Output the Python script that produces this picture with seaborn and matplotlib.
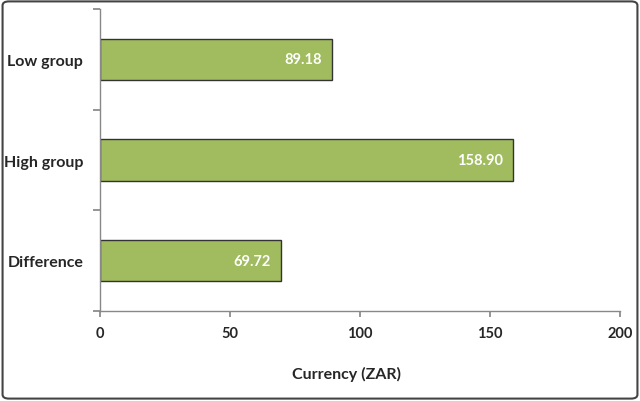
import matplotlib
matplotlib.use("Agg")
import matplotlib.pyplot as plt
from matplotlib.patches import FancyBboxPatch
import pandas as pd
import seaborn as sns

groups = ["Low group", "High group", "Difference"]
values = [89.18, 158.90, 69.72]
x_ticks = [0, 50, 100, 150, 200]

sns.set_theme(style="white")
plt.rcParams["font.family"] = ["Lato", "DejaVu Sans"]

df = pd.DataFrame({"group": groups, "value": values})

fig = plt.figure(figsize=(6.4, 4.02), dpi=100)
ax = fig.add_axes([100 / 640, 1 - 312 / 402, 520 / 640, 302 / 402])

sns.barplot(data=df, x="value", y="group", orient="h", color="#A0BC5E",
            saturation=1, width=0.41, edgecolor="#333333", linewidth=1.0, ax=ax)

for i, v in enumerate(values):
    ax.text(v - 4, i, f"{v:.2f}", ha="right", va="center", color="white",
            fontsize=10.5, fontweight="bold")

ax.set_xlim(0, 200)
ax.set_ylim(2.5, -0.5)
ax.set_xticks(x_ticks)
ax.set_xticklabels([str(t) for t in x_ticks], fontsize=10.5, fontweight="bold")
ax.set_yticks([-0.5, 0.5, 1.5, 2.5], minor=False)
ax.set_yticklabels([])
ax.set_yticks([0, 1, 2], minor=True)
ax.set_yticklabels(groups, minor=True, fontsize=11.5, fontweight="bold")
ax.tick_params(axis="y", which="major", length=5, color="#888888", left=True, direction="out")
ax.tick_params(axis="y", which="minor", length=0, pad=12)
ax.tick_params(axis="x", length=4, color="#888888", bottom=True, direction="out", pad=7)
ax.set_xlabel("Currency (ZAR)", fontsize=11.5, fontweight="bold")
ax.xaxis.set_label_coords((346 - 100) / 520, -(367 - 312) / 302)
ax.set_ylabel("")

for side in ("top", "right"):
    ax.spines[side].set_visible(False)
for side in ("left", "bottom"):
    ax.spines[side].set_color("#888888")
    ax.spines[side].set_linewidth(1.0)

border = FancyBboxPatch((0.004, 0.006), 0.992, 0.988, boxstyle="round,pad=0,rounding_size=0.01",
                        transform=fig.transFigure, fill=False, edgecolor="#444444",
                        linewidth=1.5, zorder=10)
fig.patches.append(border)

fig.savefig("out.png", dpi=100)
